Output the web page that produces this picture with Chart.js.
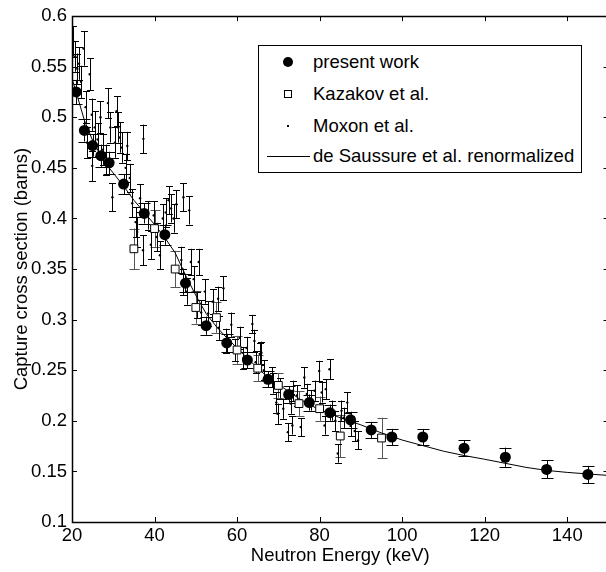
<!DOCTYPE html>
<html lang="en">
<head>
<meta charset="UTF-8">
<title>Capture cross section</title>
<style>
  html, body { margin: 0; padding: 0; background: #fff; }
  body { width: 606px; height: 572px; overflow: hidden; position: relative;
         font-family: 'Liberation Sans', Arial, Helvetica, sans-serif; }
  #wrap { position: absolute; left: 0; top: 0; width: 615px; height: 572px; }
  .legend { position: absolute; left: 258px; top: 45px; width: 324px; height: 128px;
            box-sizing: border-box; border: 1px solid #000; background: #fff; font-size: 18.5px; color: #000; }
  .row { position: absolute; left: 0; height: 22px; line-height: 22px; }
  .row span.txt { position: absolute; left: 54px; white-space: nowrap; }
  .mk { position: absolute; box-sizing: border-box; }
</style>
<script src="https://cdn.jsdelivr.net/npm/chart.js"></script>
</head>
<body>
<div id="wrap"><canvas id="chart" width="615" height="572"></canvas></div>

<div class="legend">
  <div class="row" style="top:5px"><div class="mk" style="left:24px;top:6px;width:10px;height:10px;border-radius:50%;background:#000"></div><span class="txt">present work</span></div>
  <div class="row" style="top:37px"><div class="mk" style="left:25px;top:7px;width:8px;height:8px;border:1px solid #000"></div><span class="txt">Kazakov et al.</span></div>
  <div class="row" style="top:69px"><div class="mk" style="left:28px;top:10px;width:2px;height:2px;background:#000"></div><span class="txt">Moxon et al.</span></div>
  <div class="row" style="top:99px"><div class="mk" style="left:8px;top:11px;width:43px;height:1px;background:#000"></div><span class="txt">de Saussure et al. renormalized</span></div>
</div>

<script>
// axis ticks
const xTicks = [20, 40, 60, 80, 100, 120, 140];
const yTicks = [0.1, 0.15, 0.2, 0.25, 0.3, 0.35, 0.4, 0.45, 0.5, 0.55, 0.6];

// present work
const presentE = [21, 23, 25, 27, 29, 32.5, 37.5, 42.5, 47.5, 52.5, 57.5, 62.5, 67.5, 72.5, 77.5, 82.5, 87.5, 92.5, 97.5, 105, 115, 125, 135, 145];
const presentV = [0.525, 0.487, 0.472, 0.462, 0.455, 0.434, 0.405, 0.384, 0.336, 0.294, 0.277, 0.260, 0.241, 0.226, 0.218, 0.208, 0.201, 0.191, 0.184, 0.184, 0.173, 0.164, 0.152, 0.147];
const presentErr = [0.012, 0.011, 0.011, 0.011, 0.011, 0.010, 0.010, 0.010, 0.009, 0.009, 0.009, 0.008, 0.008, 0.008, 0.008, 0.008, 0.008, 0.008, 0.008, 0.008, 0.008, 0.0095, 0.009, 0.0085];

// Kazakov et al.
const kazE = [35, 40, 45, 50, 55, 60, 65, 70, 75, 80, 85, 95];
const kazV = [0.37, 0.39, 0.35, 0.312, 0.302, 0.27, 0.252, 0.235, 0.217, 0.212, 0.185, 0.183];
const kazErr = [0.02, 0.018, 0.018, 0.016, 0.015, 0.014, 0.013, 0.012, 0.012, 0.012, 0.021, 0.02];

// Moxon et al.
const moxonE = [20.3, 20.8, 21.3, 21.7, 22.2, 22.8, 23.3, 23.6, 24.3, 24.8, 24.9, 25.5, 26.2, 26.9, 27.5, 28.2, 28.7, 29.3, 29.8, 30.4,
  30.8, 31.2, 31.6, 32.0, 33.0, 33.4, 34.0, 34.6, 35.4, 35.8, 36.5, 37.3, 37.2, 38.3, 39.1, 39.8, 40.5, 41.3, 42.0, 42.7,
  43.4, 44.0, 44.6, 45.3, 46.5, 47.0, 47.0, 47.8, 48.4, 48.8, 49.5, 50.2, 50.7, 51.3, 52.2, 53.0, 54.2, 55.4, 55.5, 56.7,
  57.4, 58.6, 59.5, 60.6, 61.5, 62.3, 63.7, 64.2, 64.5, 65.5, 65.9, 66.5, 68.4, 68.8, 69.5, 69.8, 70.5, 71.2, 72.3, 73.0,
  73.4, 73.6, 74.5, 75.4, 76.3, 76.9, 78.0, 78.8, 79.9, 80.5, 81.2, 81.5, 82.4, 83.0, 83.8, 84.4, 85.3, 85.8, 86.7, 87.5,
  88.5, 89.3];
const moxonV = [0.575, 0.56, 0.548, 0.553, 0.535, 0.568, 0.51, 0.475, 0.5425, 0.5025, 0.452, 0.49, 0.478, 0.50, 0.468, 0.458, 0.514, 0.49, 0.421, 0.475,
  0.506, 0.49, 0.48, 0.47, 0.45, 0.4716, 0.44, 0.415, 0.3964, 0.3866, 0.42, 0.4787, 0.3686, 0.403, 0.374, 0.403, 0.3817, 0.3637, 0.40, 0.406,
  0.418, 0.41, 0.40, 0.414, 0.359, 0.421, 0.3375, 0.3277, 0.408, 0.357, 0.34, 0.3147, 0.357, 0.307, 0.3277, 0.306, 0.318, 0.3206, 0.292, 0.331,
  0.279, 0.295, 0.27, 0.282, 0.262, 0.272, 0.2957, 0.279, 0.258, 0.266, 0.2673, 0.25, 0.243, 0.237, 0.218, 0.207, 0.232, 0.212, 0.1888, 0.217,
  0.1954, 0.2297, 0.225, 0.1938, 0.2428, 0.2265, 0.22, 0.2297, 0.2493, 0.228, 0.1954, 0.2313, 0.251, 0.21, 0.20, 0.1677, 0.21, 0.203, 0.218, 0.195,
  0.19, 0.1807];
const moxonErr = [0.015, 0.015, 0.015, 0.016, 0.016, 0.017, 0.016, 0.015, 0.016, 0.016, 0.015, 0.016, 0.016, 0.016, 0.015, 0.015, 0.015, 0.015, 0.014, 0.015,
  0.015, 0.015, 0.015, 0.015, 0.014, 0.014, 0.014, 0.014, 0.015, 0.015, 0.014, 0.014, 0.015, 0.014, 0.014, 0.014, 0.014, 0.014, 0.014, 0.014,
  0.014, 0.014, 0.014, 0.014, 0.013, 0.014, 0.013, 0.013, 0.014, 0.013, 0.013, 0.013, 0.013, 0.012, 0.012, 0.012, 0.012, 0.012, 0.012, 0.012,
  0.012, 0.012, 0.011, 0.011, 0.011, 0.011, 0.009, 0.011, 0.011, 0.011, 0.011, 0.01, 0.01, 0.01, 0.01, 0.01, 0.01, 0.01, 0.009, 0.01,
  0.009, 0.01, 0.01, 0.009, 0.01, 0.01, 0.01, 0.01, 0.01, 0.01, 0.009, 0.01, 0.01, 0.01, 0.01, 0.009, 0.01, 0.01, 0.01, 0.01,
  0.01, 0.009];

// de Saussure et al. renormalized
const saussE = [20, 21, 23, 25, 27, 29, 32.5, 35, 37.5, 40, 42.5, 45, 47.5, 50, 52.5, 55, 57.5, 60, 62.5, 65, 67.5, 70, 72.5, 75, 77.5, 80,
  85, 90, 95, 100, 105, 110, 115, 120, 125, 130, 135, 140, 145, 150];
const saussV = [0.538, 0.525, 0.497, 0.477, 0.462, 0.450, 0.432, 0.418, 0.406, 0.394, 0.381, 0.366, 0.344, 0.324, 0.306, 0.293, 0.282, 0.272, 0.262, 0.252, 0.243, 0.236, 0.229, 0.222, 0.216, 0.211,
  0.203, 0.196, 0.188, 0.181, 0.1755, 0.170, 0.1657, 0.162, 0.158, 0.154, 0.151, 0.149, 0.1475, 0.146];

const pts = (xs, ys) => xs.map((x, i) => ({ x: x, y: ys[i] }));

// vertical error bars, drawn under the markers
const errorBars = {
  id: 'errorBars',
  beforeDatasetsDraw(chart) {
    const ctx = chart.ctx;
    const xs = chart.scales.x, ys = chart.scales.y;
    const a = chart.chartArea;
    ctx.save();
    ctx.beginPath();
    ctx.rect(a.left, a.top, a.right - a.left, a.bottom - a.top);
    ctx.clip();
    chart.data.datasets.forEach(ds => {
      if (!ds.errors) return;
      ctx.strokeStyle = ds.errColor || '#000';
      ctx.lineWidth = 1;
      ds.data.forEach((p, i) => {
        const e = ds.errors[i];
        const px = Math.round(xs.getPixelForValue(p.x)) + 0.5;
        const y1 = ys.getPixelForValue(p.y + e);
        const y2 = ys.getPixelForValue(p.y - e);
        const c = ds.cap;
        ctx.beginPath();
        ctx.moveTo(px, y1); ctx.lineTo(px, y2);
        ctx.moveTo(px - c, Math.round(y1) + 0.5); ctx.lineTo(px + c, Math.round(y1) + 0.5);
        ctx.moveTo(px - c, Math.round(y2) + 0.5); ctx.lineTo(px + c, Math.round(y2) + 0.5);
        ctx.stroke();
      });
    });
    ctx.restore();
  }
};

// box round the plot with inward ticks on all four sides
const frame = {
  id: 'frame',
  afterDraw(chart) {
    const ctx = chart.ctx, a = chart.chartArea;
    const xs = chart.scales.x, ys = chart.scales.y;
    const len = 5;
    ctx.save();
    ctx.strokeStyle = '#000';
    ctx.lineWidth = 1;
    ctx.beginPath();
    xTicks.forEach(v => {
      const px = Math.round(xs.getPixelForValue(v)) + 0.5;
      ctx.moveTo(px, a.bottom); ctx.lineTo(px, a.bottom - len);
      ctx.moveTo(px, a.top); ctx.lineTo(px, a.top + len);
    });
    yTicks.forEach(v => {
      const py = Math.round(ys.getPixelForValue(v)) + 0.5;
      ctx.moveTo(a.left, py); ctx.lineTo(a.left + len, py);
      ctx.moveTo(a.right, py); ctx.lineTo(a.right - len, py);
    });
    ctx.stroke();
    ctx.lineWidth = 1.5;
    ctx.strokeRect(Math.round(a.left) + 0.5, Math.round(a.top) + 0.5, Math.round(a.right - a.left), Math.round(a.bottom - a.top));
    ctx.restore();
  }
};

const font = { family: "'Liberation Sans', Arial, sans-serif", size: 18.5 };

new Chart(document.getElementById('chart'), {
  type: 'scatter',
  data: {
    datasets: [
      {
        label: 'present work',
        data: pts(presentE, presentV),
        errors: presentErr, cap: 6,
        pointRadius: 5.5, pointBackgroundColor: '#000', pointBorderColor: '#000', pointBorderWidth: 0,
        order: 0
      },
      {
        label: 'Kazakov et al.',
        data: pts(kazE, kazV),
        errors: kazErr, cap: 5, errColor: '#555',
        pointStyle: 'rect', pointRadius: 5.5, pointBackgroundColor: '#fff', pointBorderColor: '#000', pointBorderWidth: 1,
        order: 1
      },
      {
        label: 'Moxon et al.',
        data: pts(moxonE, moxonV),
        errors: moxonErr, cap: 3.5,
        pointRadius: 1.2, pointBackgroundColor: '#000', pointBorderColor: '#000', pointBorderWidth: 0,
        order: 2
      },
      {
        label: 'de Saussure et al. renormalized',
        data: pts(saussE, saussV),
        showLine: true, pointRadius: 0, borderColor: '#000', borderWidth: 1, tension: 0,
        order: 3
      }
    ]
  },
  options: {
    responsive: false,
    animation: false,
    layout: { padding: { top: 12, right: 6, left: 0, bottom: 0 } },
    plugins: { legend: { display: false }, tooltip: { enabled: false } },
    scales: {
      x: {
        type: 'linear', min: 20, max: 150,
        afterBuildTicks: s => { s.ticks = xTicks.map(v => ({ value: v })); },
        afterFit: s => { s.height = 50; },
        grid: { display: false, drawTicks: false },
        border: { display: false },
        ticks: { font: font, color: '#000', padding: 3, maxRotation: 0, autoSkip: false },
        title: { display: true, text: 'Neutron Energy (keV)', font: font, color: '#000', padding: { top: 0, bottom: 5 } }
      },
      y: {
        type: 'linear', min: 0.1, max: 0.6,
        afterBuildTicks: s => { s.ticks = yTicks.map(v => ({ value: v })); },
        afterFit: s => { s.width = 72; },
        grid: { display: false, drawTicks: false },
        border: { display: false },
        ticks: { font: font, color: '#000', padding: 5, autoSkip: false, callback: v => String(+v.toFixed(2)) },
        title: { display: true, text: 'Capture cross section (barns)', font: font, color: '#000', padding: { top: 11, bottom: 0 } }
      }
    }
  },
  plugins: [errorBars, frame]
});
</script>
</body>
</html>
